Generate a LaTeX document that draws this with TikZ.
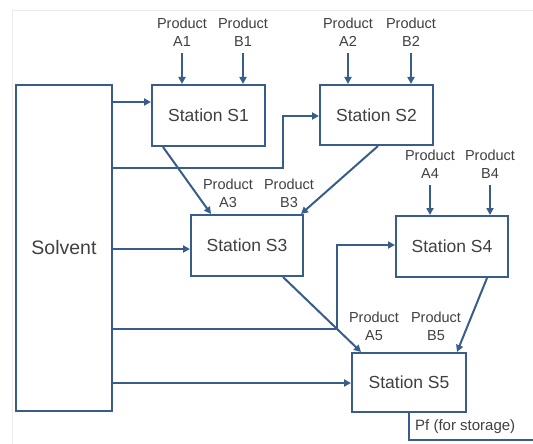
\documentclass[tikz,border=0pt]{standalone}
\usepackage{fontspec}
\setmainfont{Liberation Sans}
\usetikzlibrary{arrows.meta}
\definecolor{ln}{RGB}{56,93,138}
\definecolor{tx}{RGB}{64,64,64}
\begin{document}
\begin{tikzpicture}[x=1pt,y=-1pt,
  stationbox/.style={draw=ln,line width=2pt,inner sep=0pt,text=tx,
    font=\fontsize{17.5}{20}\selectfont},
  prod/.style={text=tx,align=center,inner sep=0pt,
    font=\fontsize{14.5}{18}\selectfont},
  flow/.style={draw=ln,line width=2pt,-{Triangle[length=7pt,width=7pt]}},
  plain/.style={draw=ln,line width=2pt}]
\useasboundingbox (0,0) rectangle (533,444);
\fill[white] (0,0) rectangle (533,444);
\draw[black!8,line width=1pt] (12,444) -- (12,11) -- (533,11);

% boxes
\node[stationbox,minimum width=96pt,minimum height=326pt,
  font=\fontsize{19.5}{22}\selectfont] (solv) at (64,248) {Solvent};
\node[stationbox,minimum width=113pt,minimum height=61pt] (s1) at (208.5,115.5) {Station S1};
\node[stationbox,minimum width=113pt,minimum height=60pt] (s2) at (376.5,115) {Station S2};
\node[stationbox,minimum width=112pt,minimum height=61pt] (s3) at (247,245.5) {Station S3};
\node[stationbox,minimum width=112pt,minimum height=61pt] (s4) at (452,246.5) {Station S4};
\node[stationbox,minimum width=114pt,minimum height=59pt] (s5) at (409,382.5) {Station S5};

% product labels
\node[prod] (pa1) at (182,32.5) {Product\\A1};
\node[prod] (pb1) at (243,32.5) {Product\\B1};
\node[prod] (pa2) at (348,32.5) {Product\\A2};
\node[prod] (pb2) at (411,32.5) {Product\\B2};
\node[prod] (pa3) at (228,193.5) {Product\\A3};
\node[prod] (pb3) at (289,193.5) {Product\\B3};
\node[prod] (pa4) at (430,164.5) {Product\\A4};
\node[prod] (pb4) at (490,164.5) {Product\\B4};
\node[prod] (pa5) at (374,326) {Product\\A5};
\node[prod] (pb5) at (436,326) {Product\\B5};
\node[prod,anchor=west,font=\fontsize{15}{18}\selectfont] (pf) at (415,427) {Pf (for storage)};

% product inputs
\foreach \p/\s in {pa1/s1,pb1/s1,pa2/s2,pb2/s2,pa4/s4,pb4/s4}
  \draw[flow] ([yshift=-6pt]\p.south) -- (\p.south |- \s.north);

% solvent feeds
\draw[flow] (solv.east |- 0,102) -- (s1.west |- 0,102);
\draw[flow] (solv.east |- 0,168) -- (283,168) -- (283,116) -- (s2.west |- 0,116);
\draw[flow] (solv.east |- 0,249) -- (s3.west |- 0,249);
\draw[flow] (solv.east |- 0,329) -- (337,329) -- (337,245) -- (s4.west |- 0,245);
\draw[flow] (solv.east |- 0,383) -- (s5.west |- 0,383);

% station links
\draw[flow] ([xshift=12pt]s1.south west) -- ([xshift=21pt]s3.north west);
\draw[flow] ([xshift=59pt]s2.south west) -- ([xshift=-3pt]s3.north east);
\draw[flow] ([xshift=-21pt]s3.south east) -- ([xshift=10pt]s5.north west);
\draw[flow] ([xshift=-22pt]s4.south east) -- ([xshift=-10pt]s5.north east);

% storage outlet
\draw[plain] (s5.south -| 409,0) -- (409,440) -- (533,440);
\end{tikzpicture}
\end{document}
